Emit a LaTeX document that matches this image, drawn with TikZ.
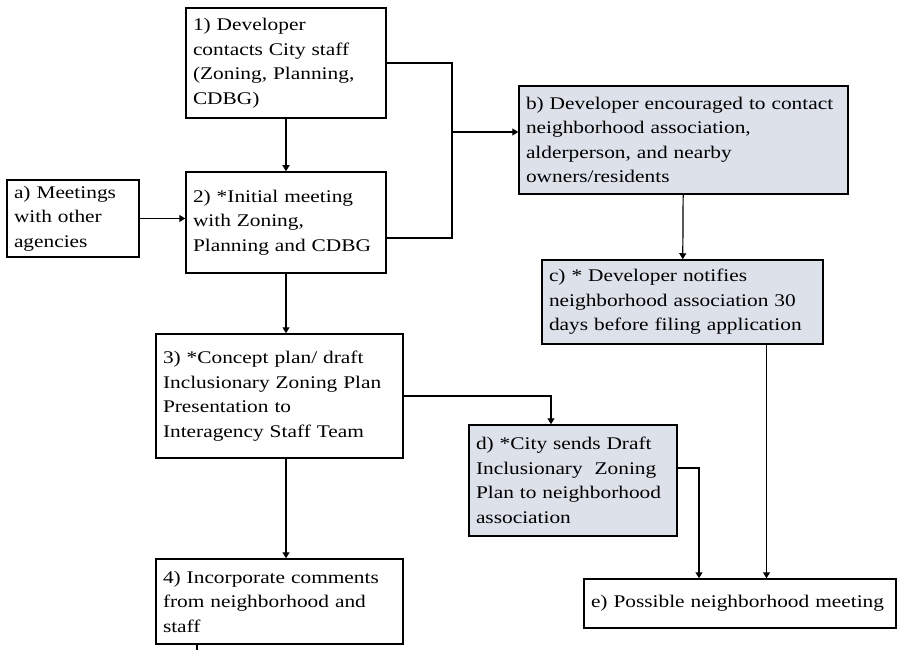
\documentclass[tikz,border=0pt]{standalone}
\usepackage{fontspec}
\setmainfont[FakeStretch=1.2]{Liberation Serif}
\usetikzlibrary{positioning, calc, arrows.meta}

\begin{document}
\begin{tikzpicture}[
    x=1pt, y=-1pt,
    stepbox/.style={
        draw=black,
        line width=1.5pt,
        inner xsep=7pt,
        inner ysep=0pt,
        align=left,
        font=\fontsize{17.8}{24.5}\selectfont
    },
    shaded/.style={
        stepbox,
        fill=boxgrey
    },
    arrow/.style={
        -{Triangle[length=6pt, width=7pt]},
        line width=1.2pt
    },
    link/.style={
        line width=1.2pt
    }
]
\definecolor{boxgrey}{HTML}{DDE1EA}

% page
\useasboundingbox (0,0) rectangle (898,650);

% boxes: centre, then width and height
\node[stepbox, text width=186pt, minimum height=110pt] (step1) at (286,63)
  {1) Developer\\contacts City staff\\(Zoning, Planning,\\CDBG)};
\node[stepbox, text width=186pt, minimum height=101pt] (step2) at (286,222.5)
  {2) *Initial meeting\\with Zoning,\\Planning and CDBG};
\node[stepbox, text width=118pt, minimum height=77pt] (meet) at (73,218.5)
  {a) Meetings\\with other\\agencies};
\node[stepbox, text width=233pt, minimum height=124pt] (step3) at (279.5,396)
  {3) *Concept plan/ draft\\Inclusionary Zoning Plan\\Presentation to\\Interagency Staff Team};
\node[stepbox, text width=233pt, minimum height=85pt] (step4) at (279.5,601.5)
  {4) Incorporate comments\\from neighborhood and\\staff};

\node[shaded, text width=315pt, minimum height=108pt] (contact) at (683.5,140)
  {b) Developer encouraged to contact\\neighborhood association,\\alderperson, and nearby\\owners/residents};
\node[shaded, text width=267pt, minimum height=84pt] (notify) at (682.5,302)
  {c) * Developer notifies\\neighborhood association 30\\days before filing application};
\node[shaded, text width=194pt, minimum height=111pt] (sends) at (573,480.5)
  {d) *City sends Draft\\Inclusionary~ Zoning\\Plan to neighborhood\\association};
\node[stepbox, text width=298pt, minimum height=49pt] (possible) at (740,603.5)
  {e) Possible neighborhood meeting};

% junction points
\coordinate (bus) at (452,132);
\coordinate (stub) at (197,650);

% arrows
\draw[arrow] (step1) -- (step2);
\draw[arrow] (meet) -- (meet -| step2.west);
\draw[arrow] (step2.south) -- (step2.south |- step3.north);
\draw[arrow] (step2.south |- step3.south) -- (step2.south |- step4.north);

\draw[link] (step1.east) -| (bus);
\draw[link] ([yshift=-15.5pt]step2.east) -| (bus);
\draw[arrow] (bus) -- (bus -| contact.west);

\draw[arrow] (contact) -- (notify);
\draw[arrow] ([xshift=84pt]notify.south) -- ([xshift=84pt]notify.south |- possible.north);

\draw[arrow] (step3.east) -| ([xshift=-22pt]sends.north);
\draw[arrow] ([yshift=12.5pt]sends.east) -| ([xshift=-41pt]possible.north);

\draw[link] ([xshift=-82.5pt]step4.south) -- (stub);

\end{tikzpicture}
\end{document}
